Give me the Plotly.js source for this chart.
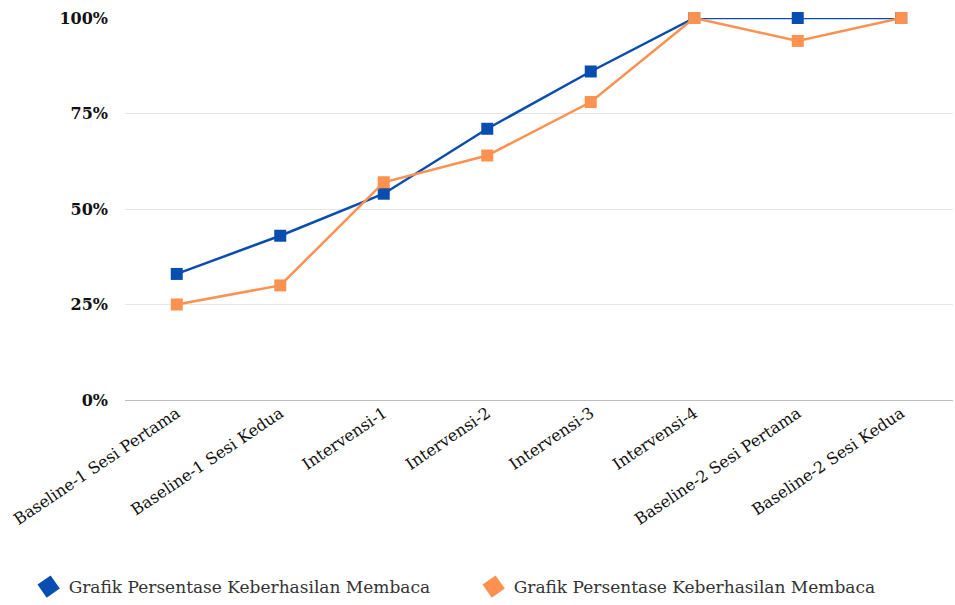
<!DOCTYPE html>
<html>
<head>
<meta charset="utf-8">
<script src="https://cdn.plot.ly/plotly-3.0.1.min.js"></script>
<style>
  html, body { margin: 0; padding: 0; background: #ffffff; }
  #chart { width: 955px; height: 605px; }
</style>
</head>
<body>
<div id="chart"></div>
<script>
// Session labels along the x axis
const sessions = [
  "Baseline-1 Sesi Pertama",
  "Baseline-1 Sesi Kedua",
  "Intervensi-1",
  "Intervensi-2",
  "Intervensi-3",
  "Intervensi-4",
  "Baseline-2 Sesi Pertama",
  "Baseline-2 Sesi Kedua"
];

// Reading success percentages for the two series
const seriesBlue = [33, 43, 54, 71, 86, 100, 100, 100];
const seriesOrange = [25, 30, 57, 64, 78, 100, 94, 100];

const seriesName = "Grafik Persentase Keberhasilan Membaca";

const yTicks = [0, 25, 50, 75, 100];
const yTickText = ["0%", "25%", "50%", "75%", "100%"];

const blue = "#0a4db0";
const orange = "#fd914f";
const serif = "'DejaVu Serif', 'Liberation Serif', serif";

function lineTrace(values, color) {
  return {
    x: sessions,
    y: values,
    type: "scatter",
    mode: "lines+markers",
    showlegend: false,
    cliponaxis: false,
    line: { color: color, width: 2.5 },
    marker: { symbol: "square", size: 12, color: color },
    hoverinfo: "x+y"
  };
}

// Legend entries show a tilted swatch only, each in its own legend box
function legendTrace(color, legendId) {
  return {
    x: [null],
    y: [null],
    type: "scatter",
    mode: "markers",
    name: seriesName,
    legend: legendId,
    marker: { symbol: "square", size: 16, color: color, angle: -35 },
    hoverinfo: "skip"
  };
}

const data = [
  lineTrace(seriesBlue, blue),
  lineTrace(seriesOrange, orange),
  legendTrace(blue, "legend"),
  legendTrace(orange, "legend2")
];

function legendBox(xPos) {
  return {
    orientation: "h",
    xref: "container",
    yref: "container",
    x: xPos,
    y: -0.01,
    xanchor: "left",
    yanchor: "bottom",
    font: { family: serif, size: 17, color: "#333333" },
    bgcolor: "rgba(0,0,0,0)"
  };
}

const layout = {
  width: 955,
  height: 605,
  margin: { l: 125, r: 2, t: 18, b: 205 },
  paper_bgcolor: "#ffffff",
  plot_bgcolor: "#ffffff",
  font: { family: serif, color: "#111111", size: 16 },
  xaxis: {
    type: "category",
    range: [-0.5, 7.5],
    tickangle: -34,
    showgrid: false,
    zeroline: false,
    showline: false,
    ticks: "",
    tickfont: { family: serif, size: 16, color: "#111111" }
  },
  yaxis: {
    range: [0, 100],
    tickvals: yTicks,
    ticktext: yTickText,
    showgrid: true,
    gridcolor: "#e6e6e6",
    gridwidth: 1,
    zeroline: true,
    zerolinecolor: "#bdbdbd",
    zerolinewidth: 1,
    showline: false,
    ticks: "",
    ticklabelstandoff: 16,
    tickfont: { family: serif, size: 16, color: "#111111", weight: "bold" }
  },
  legend: legendBox(0.03),
  legend2: legendBox(0.496)
};

Plotly.newPlot("chart", data, layout, { displayModeBar: false, staticPlot: true });
</script>
</body>
</html>
